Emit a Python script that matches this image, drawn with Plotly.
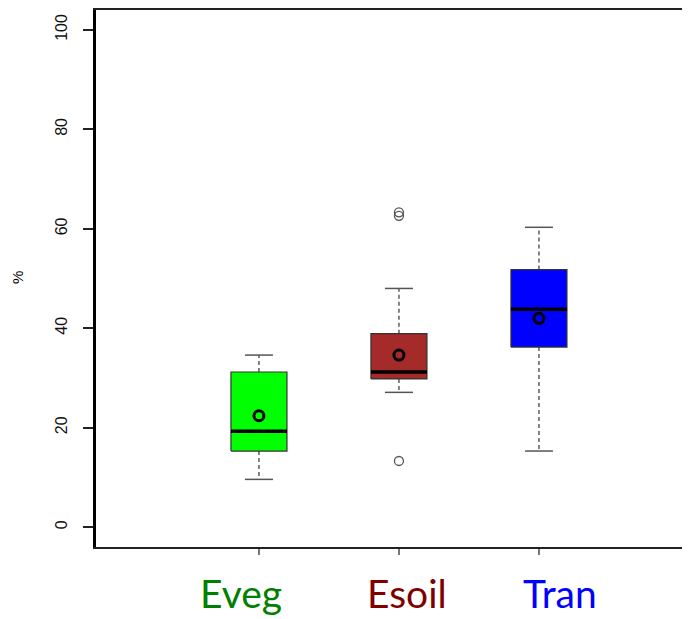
import plotly.graph_objects as go

categories = ["Eveg", "Esoil", "Tran"]
positions = [1, 2, 3]
q1 = [15.3, 29.8, 36.2]
median = [19.3, 31.2, 43.8]
q3 = [31.2, 38.9, 51.8]
lower_whisker = [9.6, 27.1, 15.3]
upper_whisker = [34.6, 48.0, 60.3]
means = [22.4, 34.6, 42.0]
outlier_x = [2, 2, 2]
outlier_y = [63.3, 62.6, 13.3]
fill_colors = ["#00FF00", "#A52A2A", "#0000FF"]
label_colors = ["#008000", "#800000", "#0000FF"]
label_x = [0.871, 2.057, 3.15]
y_ticks = [0, 20, 40, 60, 80, 100]

half_box = 0.2
half_cap = 0.1

fig = go.Figure()
for i, p in enumerate(positions):
    fig.add_trace(go.Scatter(x=[p, p, None, p, p], y=[q3[i], upper_whisker[i], None, q1[i], lower_whisker[i]],
                             mode="lines", line=dict(color="#444444", width=1.3, dash="4px,3px"),
                             hoverinfo="skip", showlegend=False))
    fig.add_trace(go.Scatter(x=[p - half_cap, p + half_cap, None, p - half_cap, p + half_cap],
                             y=[upper_whisker[i], upper_whisker[i], None, lower_whisker[i], lower_whisker[i]],
                             mode="lines", line=dict(color="#555555", width=1.5),
                             hoverinfo="skip", showlegend=False))
    fig.add_trace(go.Scatter(x=[p - half_box, p + half_box, p + half_box, p - half_box, p - half_box],
                             y=[q1[i], q1[i], q3[i], q3[i], q1[i]],
                             mode="lines", fill="toself", fillcolor=fill_colors[i],
                             line=dict(color="#333333", width=1.2),
                             hoverinfo="skip", showlegend=False))
    fig.add_trace(go.Scatter(x=[p - half_box, p + half_box], y=[median[i], median[i]],
                             mode="lines", line=dict(color="#000000", width=3.5),
                             hoverinfo="skip", showlegend=False))

fig.add_trace(go.Scatter(x=outlier_x, y=outlier_y, mode="markers",
                         marker=dict(symbol="circle-open", size=9, color="#555555", line=dict(width=1.3)),
                         showlegend=False))
fig.add_trace(go.Scatter(x=positions, y=means, mode="markers",
                         marker=dict(symbol="circle-open", size=10, color="#000000", line=dict(width=3)),
                         showlegend=False))

for i, c in enumerate(categories):
    fig.add_annotation(x=label_x[i], xref="x", y=-0.0865, yref="paper", yanchor="middle",
                       text=c, showarrow=False,
                       font=dict(family="Lato", size=39, color=label_colors[i]))

fig.add_annotation(x=-0.131, xref="paper", y=(528 - 278) / 4.985, yref="y", text="%", showarrow=False,
                   textangle=-90, font=dict(family="Liberation Sans", size=15, color="#000000"),
                   yanchor="middle", xanchor="center")

fig.update_layout(
    width=682, height=611,
    margin=dict(l=88, r=0, t=1.5, b=71.5),
    plot_bgcolor="white", paper_bgcolor="white",
    xaxis=dict(range=[-0.164, 4.079], tickvals=positions, ticktext=["", "", ""],
               showline=True, mirror=True, linecolor="#222222", linewidth=2,
               ticks="outside", ticklen=6, tickcolor="#777777", tickwidth=1.5,
               showgrid=False, zeroline=False, fixedrange=True),
    yaxis=dict(range=[-4, 104], tickvals=y_ticks, ticktext=[str(v) for v in y_ticks],
               tickangle=-90, showline=True, mirror=False, linecolor="#000000", linewidth=2.5,
               ticks="outside", ticklen=10, tickcolor="#222222", tickwidth=2,
               ticklabelstandoff=10,
               tickfont=dict(family="Liberation Sans", size=16, color="#111111"),
               showgrid=False, zeroline=False, fixedrange=True, automargin=False),
)

fig.write_html("out.html")
